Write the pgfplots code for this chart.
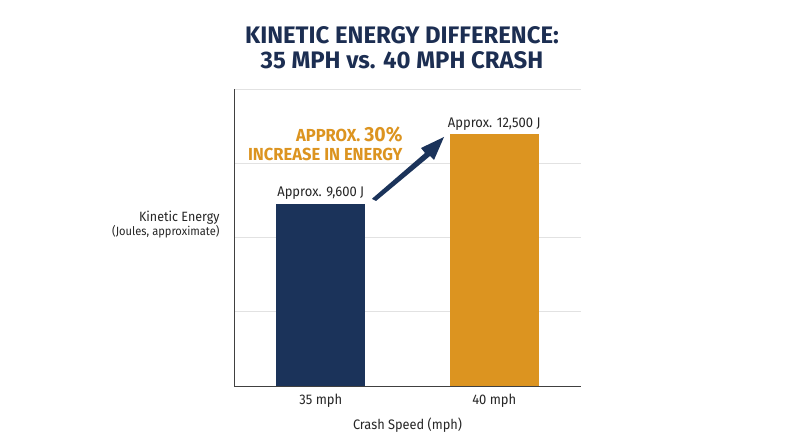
\documentclass[border=0pt]{standalone}
\usepackage{fontspec}
\setmainfont{Fira Sans}[FakeStretch=0.93]
\newfontfamily\condfont{Fira Sans}[FakeStretch=0.95]
\newfontfamily\titlefont{Fira Sans}
\usepackage{pgfplots}
\pgfplotsset{compat=1.18}
\definecolor{navy}{HTML}{1B335A}
\definecolor{gold}{HTML}{DC9420}
\definecolor{titlenavy}{HTML}{1C2E52}
\definecolor{gridgray}{HTML}{E2E2E2}
\begin{document}
\begin{tikzpicture}[x=1bp,y=1bp]
\useasboundingbox[fill=white] (0,0) rectangle (800,447);
\node[font=\titlefont\bfseries\fontsize{24}{25}\selectfont, text=titlenavy, align=center] at (402,399) {KINETIC ENERGY DIFFERENCE:\\35 MPH vs. 40 MPH CRASH};
\begin{axis}[
  at={(234bp,61bp)}, anchor=south west,
  width=347bp, height=297bp, scale only axis,
  xmin=-0.5, xmax=1.5, ymin=2000, ymax=14400,
  axis lines=left,
  axis line style={-, line width=0.9pt, color=black!75},
  xtick={0,1}, xticklabels={35 mph, 40 mph},
  xticklabel style={font=\fontsize{14}{15}\selectfont, text=black!85, yshift=-5bp},
  major tick length=0pt,
  scaled y ticks=false,
  ytick={5100,8200,11300,14400}, yticklabels={},
  ymajorgrids, grid style={gridgray, line width=0.8pt},
  xlabel={Crash Speed (mph)},
  xlabel style={font=\fontsize{13.8}{15}\selectfont, text=black!85, yshift=-3bp},
  clip=false,
  ybar, bar width=89bp,
  nodes near coords,
  nodes near coords style={font=\fontsize{14}{15}\selectfont, text=black!85, yshift=1bp},
  point meta=explicit symbolic,
]
\addplot[fill=navy, draw=none, bar shift=0pt] coordinates {(0,9600) [Approx. 9,600 J]};
\addplot[fill=gold, draw=none, bar shift=0pt] coordinates {(1,12500) [Approx. 12,500 J]};
\end{axis}
% y label
\node[anchor=east, font=\fontsize{13.5}{14}\selectfont, text=black!85] at (223,229) {Kinetic Energy};
\node[anchor=east, font=\fontsize{12}{13}\selectfont, text=black!85] at (223,215) {(Joules, approximate)};
% annotation
\node[anchor=east, font=\condfont\bfseries\fontsize{17.5}{19}\selectfont, text=gold] at (406,312) {APPROX. {\fontsize{20.5}{21}\selectfont 30\%}};
\node[anchor=east, font=\condfont\bfseries\fontsize{17.5}{19}\selectfont, text=gold] at (406,293) {INCREASE IN ENERGY};
% arrow
\fill[navy] (372,248) -- (374,250) -- (425,294) -- (421,299) -- (444,310) -- (434,287) -- (430,291) -- (376,246) -- cycle;
\end{tikzpicture}
\end{document}
